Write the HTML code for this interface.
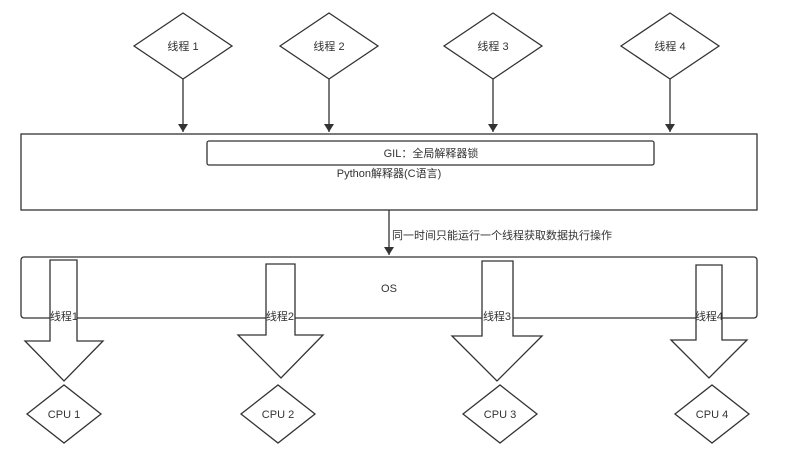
<!DOCTYPE html>
<html><head><meta charset="utf-8"><style>
html,body{margin:0;padding:0;background:#fff;}
svg text{font-family:"Liberation Sans","Noto Sans CJK SC",sans-serif;font-size:11px;fill:#333;}
</style></head><body>
<svg width="786" height="465" xmlns="http://www.w3.org/2000/svg">
<defs><marker id="a" markerWidth="10" markerHeight="10" refX="8" refY="5" orient="auto" markerUnits="userSpaceOnUse"><path d="M0,0 L8,5 L0,10 z" fill="#333"/></marker></defs>
<g fill="#fff" stroke="#333" stroke-width="1.3">
<polygon points="134,46 183,13 232,46 183,79"/>
<polygon points="280,46 329,13 378,46 329,79"/>
<polygon points="444,46 493,13 542,46 493,79"/>
<polygon points="621,46 670,13 719,46 670,79"/>
<line x1="183" y1="79" x2="183" y2="132" marker-end="url(#a)"/>
<line x1="329" y1="79" x2="329" y2="132" marker-end="url(#a)"/>
<line x1="493" y1="79" x2="493" y2="132" marker-end="url(#a)"/>
<line x1="670" y1="79" x2="670" y2="132" marker-end="url(#a)"/>
<rect x="21" y="134" width="736" height="76"/>
<rect x="207" y="141" width="447" height="24" rx="2"/>
<line x1="389" y1="210" x2="389" y2="255" marker-end="url(#a)"/>
<rect x="21" y="257" width="736" height="61" rx="3"/>
<polygon points="50,260 77,260 77,341 103,341 64,381 25,341 50,341"/>
<polygon points="266,264 295,264 295,335 323,335 281,378 238,335 266,335"/>
<polygon points="482,261 513,261 513,336 542,336 497,381 452,336 482,336"/>
<polygon points="696,265 722,265 722,340 747,340 709,378 671,340 696,340"/>
<polygon points="27,414 64,385 101,414 64,443"/>
<polygon points="241,414 278,385 315,414 278,443"/>
<polygon points="463,414 500,385 537,414 500,443"/>
<polygon points="675,414 712,385 749,414 712,443"/>
</g>
<text x="183" y="50" text-anchor="middle">线程 1</text>
<text x="329" y="50" text-anchor="middle">线程 2</text>
<text x="493" y="50" text-anchor="middle">线程 3</text>
<text x="670" y="50" text-anchor="middle">线程 4</text>
<text x="431" y="157" text-anchor="middle">GIL：全局解释器锁</text>
<text x="389" y="177" text-anchor="middle">Python解释器(C语言)</text>
<text x="392" y="239">同一时间只能运行一个线程获取数据执行操作</text>
<text x="389" y="292" text-anchor="middle">OS</text>
<text x="64" y="320" text-anchor="middle">线程1</text>
<text x="280" y="320" text-anchor="middle">线程2</text>
<text x="497" y="320" text-anchor="middle">线程3</text>
<text x="709" y="320" text-anchor="middle">线程4</text>
<text x="64" y="418" text-anchor="middle">CPU 1</text>
<text x="278" y="418" text-anchor="middle">CPU 2</text>
<text x="500" y="418" text-anchor="middle">CPU 3</text>
<text x="712" y="418" text-anchor="middle">CPU 4</text>
</svg>
</body></html>
